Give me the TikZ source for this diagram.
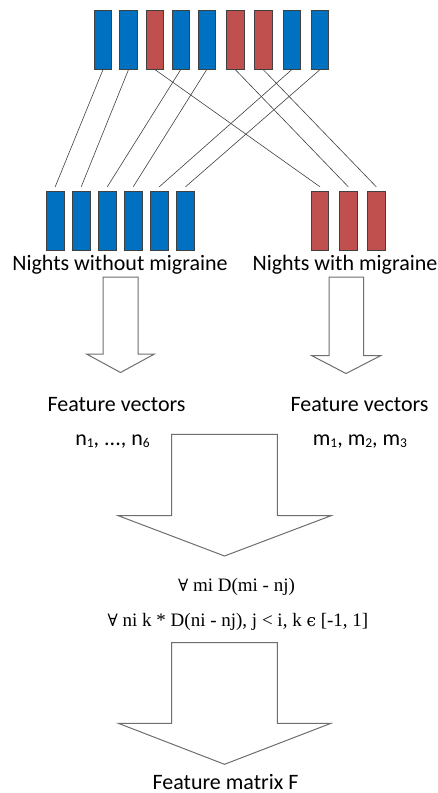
\documentclass[tikz,border=0pt]{standalone}
\usepackage{fontspec}
\setmainfont{Carlito}
\newfontfamily\serifface{Liberation Serif}
\newfontfamily\symface{DejaVu Serif}
\definecolor{barblue}{HTML}{0070C0}
\definecolor{barred}{HTML}{C0504D}
\definecolor{edge}{HTML}{404040}
\definecolor{arrgray}{HTML}{6E6E6E}
\newcommand\lowidx[1]{\raisebox{-0.2ex}{\fontsize{13.5}{14}\selectfont #1}}
\newcommand\symch[1]{{\symface\fontsize{17}{20}\selectfont #1}}
\tikzset{
	bar/.style={draw=edge,line width=.8pt,minimum width=17.5pt,minimum height=59pt,inner sep=0pt},
	label/.style={anchor=base,font=\fontsize{22}{24}\selectfont},
	formula/.style={anchor=base,font=\serifface\fontsize{19}{22}\selectfont},
	blockarr/.style={draw=arrgray,line width=1pt,fill=white,line join=miter},
	link/.style={draw=edge,line width=.6pt}
}
\begin{document}
\begin{tikzpicture}[x=1pt,y=-1pt]
	\useasboundingbox(0,0)rectangle(438,793);
	% shuffled nights
	\foreach \x/\c [count=\i] in {103/barblue,128.5/barblue,155/barred,180.7/barblue,206.7/barblue,235.3/barred,263.2/barred,291.8/barblue,320/barblue}
		\node[bar,fill=\c](t\i)at(\x,39.7){};
	% sorted nights
	\foreach \x [count=\i] in {55.2,81.2,107.3,133.2,159.3,185.5}
		\node[bar,fill=barblue](n\i)at(\x,220.7){};
	\foreach \x [count=\i] in {320,348.3,376.3}
		\node[bar,fill=barred](m\i)at(\x,220.7){};
	\foreach \a/\b in {t1/n1,t2/n2,t3/m1,t4/n3,t5/n4,t6/m2,t7/m3,t8/n5,t9/n6}
		\draw[link](\a.south)--([yshift=4pt]\b.north);
	\node[label](lno)at(120,270){Nights without migraine};
	\node[label](lmi)at(345,270){Nights with migraine};
	% arrows
	\draw[blockarr](103,277)--(138,277)--(138,354)--(154.5,354)--(120.5,372.5)--(86.5,354)--(103,354)--cycle;
	\draw[blockarr](329,277)--(363.5,277)--(363.5,355.5)--(381,355.5)--(346,373.5)--(311.5,355.5)--(329,355.5)--cycle;
	\node[label](fvn)at(116.5,411){Feature vectors};
	\node[label](vn)at(112.5,445){n\lowidx{1}, ..., n\lowidx{6}};
	\node[label](fvm)at(359.5,411){Feature vectors};
	\node[label](vm)at(360,445){m\lowidx{1}, m\lowidx{2}, m\lowidx{3}};
	\draw[blockarr](171.7,434.3)--(277.3,434.3)--(277.3,515.7)--(331,515.7)--(224.5,556)--(118.3,515.7)--(171.7,515.7)--cycle;
	\node[formula](dm)at(236.5,591.5){\symch{∀} mi D(mi - nj)};
	\node[formula](dn)at(238,626.5){\symch{∀} ni k * D(ni - nj), j < i, k \symch{ϵ} [-1, 1]};
	\draw[blockarr](171.7,642.7)--(277.3,642.7)--(277.3,723.3)--(331,723.3)--(224.5,764.3)--(118.3,723.3)--(171.7,723.3)--cycle;
	\node[label](fm)at(225.5,789){Feature matrix F};
\end{tikzpicture}
\end{document}
